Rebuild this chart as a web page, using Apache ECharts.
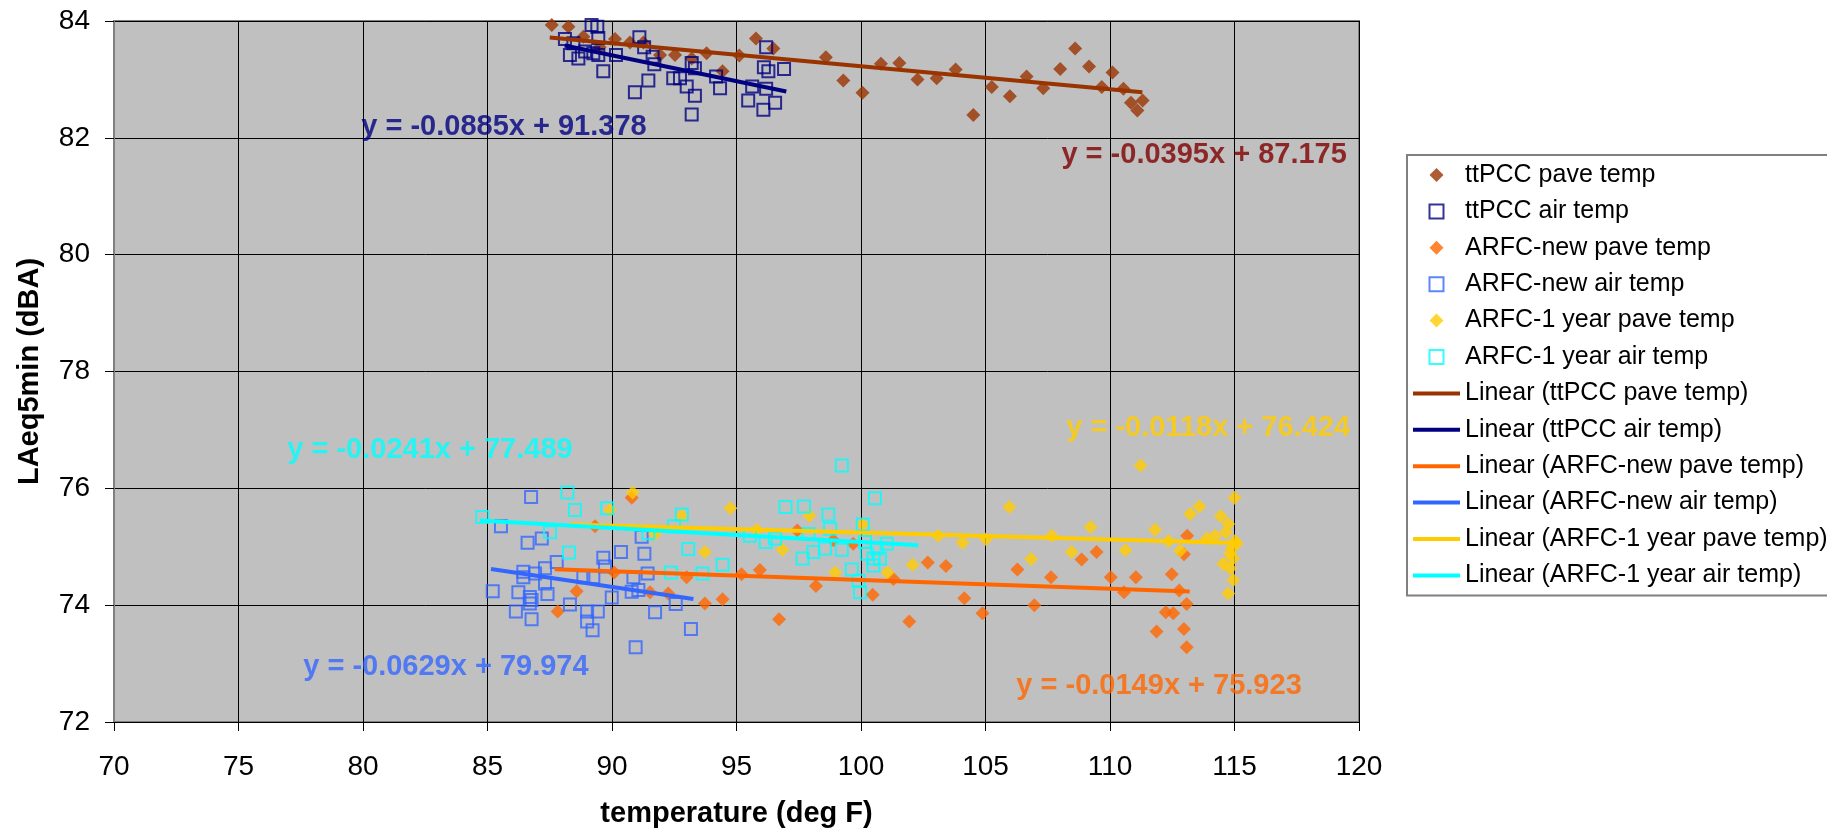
<!DOCTYPE html>
<html>
<head>
<meta charset="utf-8">
<script src="https://cdn.jsdelivr.net/npm/echarts@6/dist/echarts.min.js"></script>
<style>
html,body{margin:0;padding:0;background:#fff;}
#chart{width:1827px;height:833px;}
</style>
</head>
<body>
<div id="chart"></div>
<script>
// ---- data (temperature degF, LAeq5min dBA) ----
const ttpccPave = [[87.58,83.93],[88.25,83.90],[88.85,83.73],[89.5,83.55],[90.12,83.69],[90.72,83.63],[91.26,83.63],[91.93,83.42],[92.53,83.42],[93.2,83.36],[93.8,83.45],[94.44,83.14],[95.11,83.41],[95.78,83.70],[96.48,83.53],[98.59,83.38],[99.29,82.98],[100.06,82.77],[100.8,83.27],[101.54,83.28],[102.27,83.0],[103.04,83.02],[103.8,83.17],[104.51,82.39],[105.25,82.87],[105.98,82.71],[106.65,83.05],[107.32,82.85],[108.0,83.18],[108.6,83.53],[109.16,83.22],[109.67,82.87],[110.1,83.12],[110.54,82.84],[110.84,82.60],[111.1,82.47],[111.31,82.64]];
const ttpccAir = [[89.18,83.93],[89.41,83.90],[88.11,83.69],[88.45,83.62],[88.31,83.42],[88.65,83.36],[88.92,83.48],[89.25,83.45],[89.45,83.71],[89.45,83.42],[89.65,83.14],[90.16,83.42],[90.92,82.78],[91.1,83.72],[91.29,83.55],[91.46,82.98],[91.63,83.39],[91.7,83.26],[92.46,83.02],[92.73,83.02],[93.0,82.88],[93.2,83.28],[93.33,83.19],[93.33,82.72],[93.2,82.40],[94.18,83.05],[94.34,82.85],[95.47,82.64],[95.63,82.88],[96.1,83.21],[96.19,83.55],[96.28,83.14],[96.19,82.84],[96.08,82.48],[96.55,82.60],[96.91,83.18]];
const arfcNewPave = [[89.32,75.35],[90.79,75.84],[88.58,74.24],[87.82,73.89],[90.09,74.56],[91.53,74.22],[92.26,74.20],[93.0,74.48],[93.73,74.03],[94.44,74.10],[95.2,74.53],[95.94,74.60],[96.71,73.76],[97.44,75.28],[98.19,74.33],[98.89,75.11],[99.69,75.05],[100.47,74.18],[101.3,74.45],[101.94,73.72],[102.68,74.73],[103.41,74.67],[104.15,74.12],[104.88,73.86],[106.28,74.61],[106.96,74.0],[107.63,74.48],[108.86,74.78],[109.46,74.91],[110.03,74.48],[110.56,74.22],[111.04,74.48],[111.87,73.55],[112.24,73.88],[112.54,73.86],[112.48,74.53],[112.78,74.25],[112.97,74.87],[113.1,75.19],[113.08,74.02],[112.97,73.59],[113.08,73.28]];
const arfcNewAir = [[85.21,74.24],[85.54,75.35],[86.61,75.07],[86.75,75.85],[86.24,74.22],[86.14,73.89],[86.44,74.57],[86.44,74.48],[86.7,74.14],[86.77,74.09],[86.7,74.03],[86.77,73.76],[87.18,75.14],[86.91,74.54],[87.31,74.63],[87.31,74.37],[87.41,74.19],[87.78,74.74],[88.31,74.01],[89.0,73.89],[89.0,73.72],[89.22,73.57],[88.85,74.48],[89.25,74.48],[89.43,73.89],[89.65,74.81],[89.72,74.66],[89.99,74.13],[90.36,74.91],[90.86,74.48],[90.79,74.23],[91.06,74.26],[90.95,73.28],[91.19,75.17],[91.3,74.88],[91.43,74.54],[91.73,73.88],[92.56,74.02],[93.17,73.59]];
const arfc1yrPave = [[90.83,75.93],[89.92,75.63],[92.8,75.53],[94.76,75.66],[93.73,74.91],[91.73,75.22],[95.81,75.29],[96.85,74.95],[97.93,75.53],[98.96,74.56],[100.07,75.38],[101.07,74.56],[102.07,74.69],[103.1,75.19],[104.08,75.07],[105.02,75.13],[105.96,75.68],[106.83,74.79],[107.66,75.19],[108.46,74.91],[109.22,75.34],[110.62,74.94],[111.23,76.39],[111.81,75.29],[112.35,75.10],[112.82,74.93],[113.22,75.56],[113.59,75.69],[113.89,75.14],[114.22,75.19],[114.45,75.52],[114.75,75.39],[114.66,75.25],[115.0,75.84],[115.02,75.10],[114.89,74.97],[114.82,74.88],[114.95,74.80],[114.55,74.71],[114.82,74.63],[114.95,74.43],[114.75,74.20],[115.09,75.05]];
const arfc1yrAir = [[84.79,75.51],[88.21,75.93],[88.51,75.63],[87.51,75.25],[88.27,74.90],[89.81,75.66],[91.46,75.23],[92.49,75.35],[92.8,75.55],[93.06,74.96],[92.36,74.56],[93.63,74.54],[94.44,74.69],[95.54,75.19],[96.17,75.08],[96.55,75.14],[96.97,75.68],[97.71,75.69],[97.89,75.22],[97.65,74.80],[98.09,74.91],[98.55,74.97],[98.69,75.55],[98.76,75.31],[99.23,76.39],[99.23,74.95],[99.63,74.61],[99.9,74.42],[99.96,74.22],[100.07,75.38],[100.56,75.83],[100.16,75.08],[100.23,74.88],[100.5,74.8],[100.76,74.8],[100.63,74.97],[101.03,75.05],[100.5,74.68]];

// trend line end points (consistent with the printed equations)
const trendTtpccPave = [[87.5,83.719],[111.3,82.779]];
const trendTtpccAir = [[88.1,83.581],[97.0,82.794]];
const trendNewPave = [[87.7,74.616],[113.2,74.236]];
const trendNewAir = [[85.14,74.619],[93.27,74.107]];
const trend1yrPave = [[88.3,75.382],[115.1,75.066]];
const trend1yrAir = [[84.7,75.448],[102.3,75.024]];

// equation labels: text and anchor (data coords)
const eqTexts = ['y = -0.0395x + 87.175','y = -0.0885x + 91.378','y = -0.0149x + 75.923','y = -0.0629x + 79.974','y = -0.0118x + 76.424','y = -0.0241x + 77.489'];
const eqAnchors = [[113.78,81.70],[85.66,82.18],[111.97,72.61],[83.33,72.95],[113.94,77.04],[82.69,76.65]];
const eqColors = ['#800000','#000080','#FF6600','#3366FF','#FFCC00','#00FFFF'];

const seriesNames = ['ttPCC pave temp','ttPCC air temp','ARFC-new pave temp','ARFC-new air temp','ARFC-1 year pave temp','ARFC-1 year air temp'];
const seriesColors = ['#993300','#000080','#FF6600','#3366FF','#FFCC00','#00FFFF'];
const seriesData = [ttpccPave, ttpccAir, arfcNewPave, arfcNewAir, arfc1yrPave, arfc1yrAir];
const trendData = [trendTtpccPave, trendTtpccAir, trendNewPave, trendNewAir, trend1yrPave, trend1yrAir];
const xTicks = {min:70, max:120, interval:5};
const yTicks = {min:72, max:84, interval:2};

const FONT = "'Liberation Sans', Arial, sans-serif";
const ICON_DIAMOND = 'path://M7,0L14,7L7,14L0,7Z';
const ICON_SQUARE = 'path://M0,0L12,0L12,12L0,12Z';
const ICON_LINE = 'path://M0,0L47,0L47,4L0,4Z';

const chart = echarts.init(document.getElementById('chart'), null, {renderer:'canvas'});

const series = [];
const legendData = [];
seriesNames.forEach((n,i)=>{
  const open = (i % 2 === 1);
  const style = open ? {color:'transparent', borderColor:seriesColors[i], borderWidth:2}
                     : {color:seriesColors[i], borderWidth:0};
  series.push({
    name:n, type:'scatter', data:seriesData[i],
    symbol: open ? 'rect' : 'diamond',
    symbolSize: open ? 12 : 14,
    itemStyle: style, z:2, silent:true, animation:false
  });
  legendData.push({name:n, icon: open ? ICON_SQUARE : ICON_DIAMOND, itemStyle: style});
});
seriesNames.forEach((n,i)=>{
  const ln = 'Linear (' + n + ')';
  series.push({
    name:ln, type:'line', data:trendData[i], symbol:'none', showSymbol:false,
    lineStyle:{color:seriesColors[i], width:4}, itemStyle:{color:seriesColors[i]},
    z:3, silent:true, animation:false
  });
  legendData.push({name:ln, icon:ICON_LINE, itemStyle:{color:seriesColors[i], borderWidth:0}});
});
eqTexts.forEach((t,i)=>{
  series.push({
    name:'eq'+i, type:'scatter', data:[eqAnchors[i]], symbolSize:1,
    itemStyle:{color:'transparent'}, silent:true, z:5, animation:false,
    label:{show:true, position:'inside', formatter:t, color:eqColors[i],
      fontFamily:FONT, fontSize:29, fontWeight:'bold'}
  });
});

chart.setOption({
  backgroundColor:'#ffffff',
  animation:false,
  grid:{left:114, top:21, width:1245, height:705, show:true, backgroundColor:'#C0C0C0',
    borderColor:'#808080', borderWidth:2},
  xAxis:{type:'value', min:xTicks.min, max:xTicks.max, interval:xTicks.interval,
    name:'temperature (deg F)', nameLocation:'middle', nameGap:77,
    nameTextStyle:{fontFamily:FONT, fontSize:29, fontWeight:'bold', color:'#000'},
    axisLine:{show:true, lineStyle:{color:'#000', width:1}},
    axisTick:{show:true, inside:false, length:9, lineStyle:{color:'#000'}},
    axisLabel:{fontFamily:FONT, fontSize:28, color:'#000', margin:31},
    splitLine:{show:true, lineStyle:{color:'#000', width:1}}},
  yAxis:{type:'value', min:yTicks.min, max:yTicks.max, interval:yTicks.interval,
    name:'LAeq5min (dBA)', nameLocation:'middle', nameGap:70, nameRotate:90,
    nameTextStyle:{fontFamily:FONT, fontSize:29, fontWeight:'bold', color:'#000'},
    axisLine:{show:true, lineStyle:{color:'#808080', width:2}},
    axisTick:{show:true, inside:false, length:9, lineStyle:{color:'#000'}},
    axisLabel:{fontFamily:FONT, fontSize:28, color:'#000', margin:24},
    splitLine:{show:true, lineStyle:{color:'#000', width:1}}},
  legend:{show:true, orient:'vertical', left:1407, top:155, data:legendData,
    padding:[7,10,7,6], itemGap:10.4, itemWidth:47, itemHeight:14,
    symbolKeepAspect:true,
    borderColor:'#808080', borderWidth:2, backgroundColor:'#fff',
    selectedMode:false,
    textStyle:{fontFamily:FONT, fontSize:25, color:'#000', lineHeight:26}},
  series:series
});
</script>
</body>
</html>
